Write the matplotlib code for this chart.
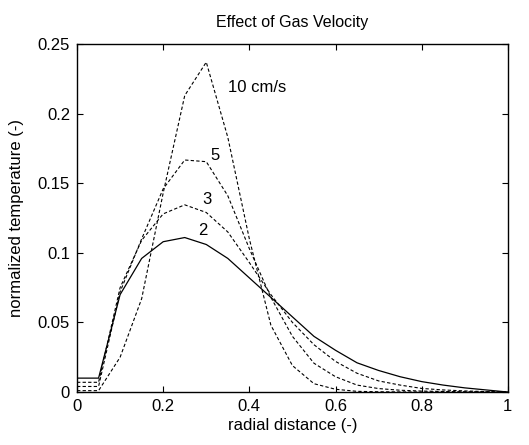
import matplotlib
matplotlib.use("Agg")
import matplotlib.pyplot as plt

plt.rcParams['font.family'] = ['Liberation Sans', 'DejaVu Sans']

# radial positions
r = [0, 0.05, 0.1, 0.15, 0.2, 0.25, 0.3, 0.35, 0.4, 0.45, 0.5,
     0.55, 0.6, 0.65, 0.7, 0.75, 0.8, 0.85, 0.9, 0.95, 1.0]

# normalized temperature for each gas velocity
t2 = [0.010, 0.010, 0.070, 0.096, 0.108, 0.111, 0.106, 0.096, 0.082, 0.068, 0.054,
      0.040, 0.030, 0.021, 0.0155, 0.011, 0.0075, 0.005, 0.003, 0.0015, 0.0]
t3 = [0.007, 0.007, 0.075, 0.109, 0.128, 0.1345, 0.129, 0.115, 0.093, 0.070, 0.050,
      0.034, 0.022, 0.0135, 0.008, 0.005, 0.0026, 0.0015, 0.0008, 0.0003, 0.0]
t5 = [0.004, 0.004, 0.072, 0.110, 0.146, 0.1667, 0.1655, 0.141, 0.103, 0.068, 0.040,
      0.0207, 0.011, 0.005, 0.0025, 0.0013, 0.0007, 0.0004, 0.0002, 0.0001, 0.0]
t10 = [0.001, 0.001, 0.025, 0.067, 0.143, 0.213, 0.237, 0.183, 0.110, 0.048, 0.019,
       0.006, 0.002, 0.0005, 0.0002, 0.0001, 0.0, 0.0, 0.0, 0.0, 0.0]

labels = ['2', '3', '5', '10 cm/s']
label_pos = [(0.28, 0.116), (0.29, 0.138), (0.31, 0.170), (0.35, 0.219)]

fs = 12

fig = plt.figure(figsize=(5.29, 4.45), dpi=100)
ax = fig.add_axes([0.1456, 0.119, 0.8144, 0.782])

ax.plot(r, t2, 'k-', lw=0.9)
for t in [t3, t5, t10]:
    ax.plot(r, t, 'k--', lw=0.8, dashes=(3, 2))

for lab, (x, y) in zip(labels, label_pos):
    ax.text(x, y, lab, fontsize=fs, ha='left', va='center')

ax.set_xlim(0, 1)
ax.set_ylim(0, 0.25)
ax.set_xticks([0, 0.2, 0.4, 0.6, 0.8, 1])
ax.set_xticklabels(['0', '0.2', '0.4', '0.6', '0.8', '1'])
ax.set_yticks([0, 0.05, 0.1, 0.15, 0.2, 0.25])
ax.set_yticklabels(['0', '0.05', '0.1', '0.15', '0.2', '0.25'])
ax.tick_params(direction='in', top=True, right=True, length=4, labelsize=fs, pad=5)
for s in ax.spines.values():
    s.set_linewidth(1.0)

ax.set_title('Effect of Gas Velocity', fontsize=11.5, pad=12)
ax.set_xlabel('radial distance (-)', fontsize=fs, labelpad=3)
ax.set_ylabel('normalized temperature (-)', fontsize=fs, labelpad=10)

fig.savefig('out.png', dpi=100)
